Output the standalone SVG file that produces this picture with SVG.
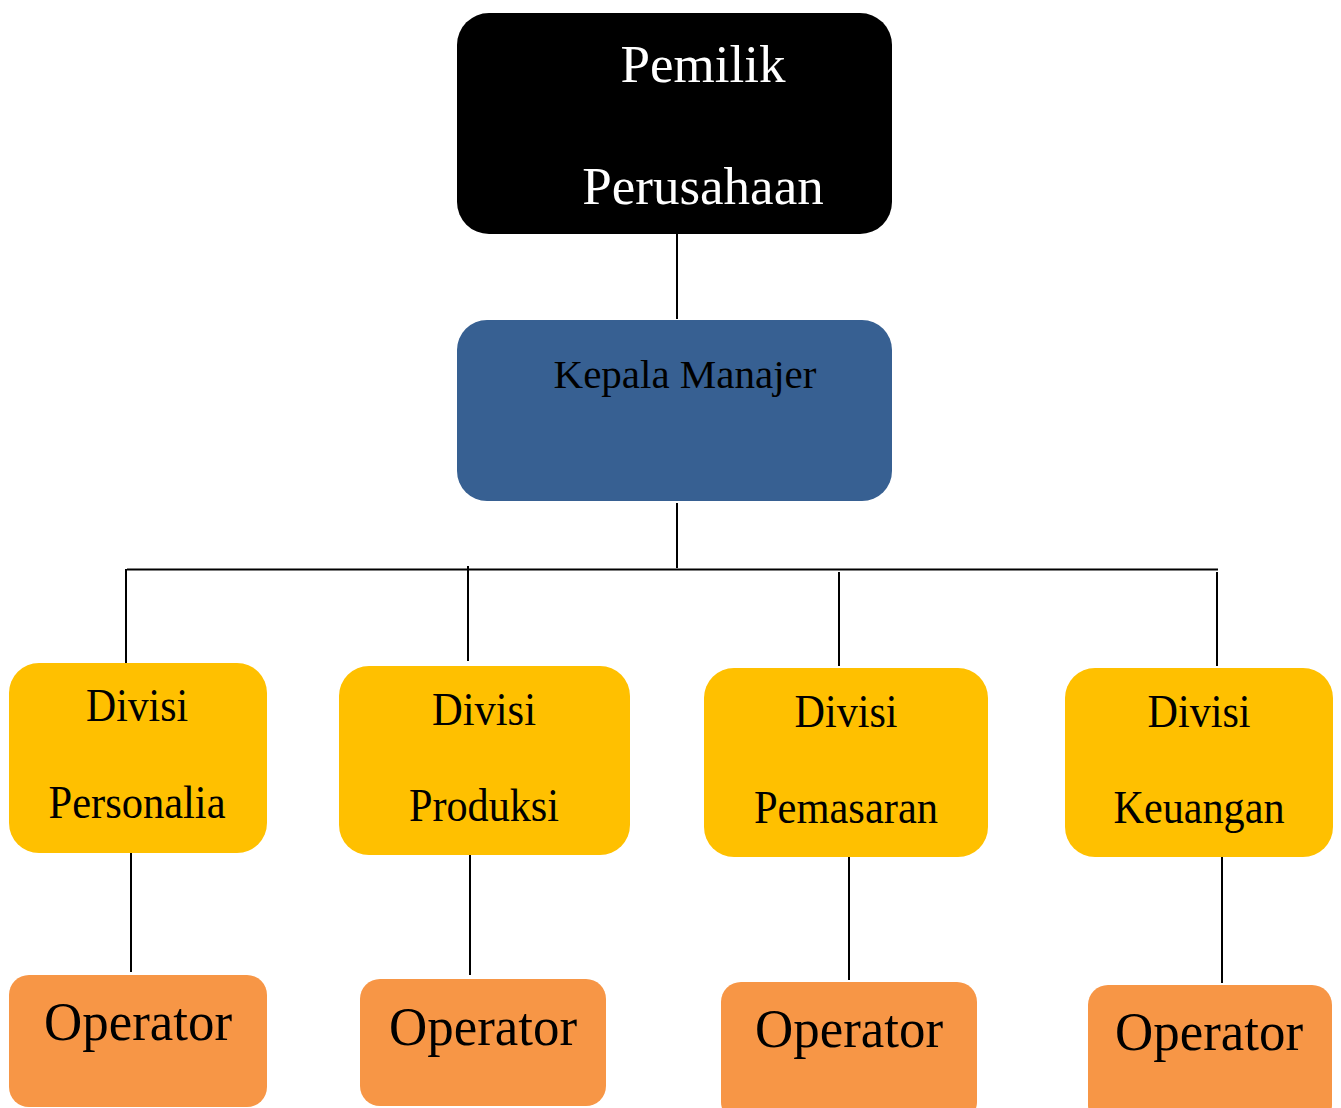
<svg xmlns="http://www.w3.org/2000/svg" width="1341" height="1108" viewBox="0 0 1341 1108">
<style>
text{font-family:"Liberation Serif","Times New Roman",serif;text-anchor:middle}
.top{fill:#000}
.mgr{fill:#376092}
.div{fill:#FFC000}
.op{fill:#F79646}
.t1{fill:#fff;font-size:53px}
.t2{fill:#000;font-size:41px}
.t3{fill:#000;font-size:46px}
.t4{fill:#000;font-size:54px}
#connectors line{stroke:#000;stroke-width:2}
</style>
<rect width="1341" height="1108" fill="#fff"/>
<g id="connectors">
<line x1="677" y1="233" x2="677" y2="319"/>
<line x1="677" y1="503" x2="677" y2="568"/>
<line x1="127" y1="569.5" x2="1218" y2="569.5"/>
<line x1="126" y1="569" x2="126" y2="663"/>
<line x1="468" y1="566" x2="468" y2="661"/>
<line x1="839" y1="572" x2="839" y2="666"/>
<line x1="1217" y1="572" x2="1217" y2="666"/>
<line x1="131" y1="847" x2="131" y2="972"/>
<line x1="470" y1="849" x2="470" y2="975"/>
<line x1="849" y1="855" x2="849" y2="980"/>
<line x1="1222" y1="857" x2="1222" y2="983"/>
</g>
<g id="pemilik">
<rect class="top" x="457" y="13" width="435" height="221" rx="32"/>
<text class="t1" x="703" y="82">Pemilik</text>
<text class="t1" x="703" y="204">Perusahaan</text>
</g>
<g id="kepala">
<rect class="mgr" x="457" y="320" width="435" height="181" rx="30"/>
<text class="t2" x="685" y="388">Kepala Manajer</text>
</g>
<g id="div-personalia">
<rect class="div" x="9" y="663" width="258" height="190" rx="30"/>
<text class="t3" x="137" y="721" textLength="102" lengthAdjust="spacingAndGlyphs">Divisi</text>
<text class="t3" x="137" y="818" textLength="177" lengthAdjust="spacingAndGlyphs">Personalia</text>
</g>
<g id="div-produksi">
<rect class="div" x="339" y="666" width="291" height="189" rx="30"/>
<text class="t3" x="484" y="725" textLength="104" lengthAdjust="spacingAndGlyphs">Divisi</text>
<text class="t3" x="484" y="821" textLength="150" lengthAdjust="spacingAndGlyphs">Produksi</text>
</g>
<g id="div-pemasaran">
<rect class="div" x="704" y="668" width="284" height="189" rx="30"/>
<text class="t3" x="846" y="727" textLength="103" lengthAdjust="spacingAndGlyphs">Divisi</text>
<text class="t3" x="846" y="823" textLength="184" lengthAdjust="spacingAndGlyphs">Pemasaran</text>
</g>
<g id="div-keuangan">
<rect class="div" x="1065" y="668" width="268" height="189" rx="30"/>
<text class="t3" x="1199" y="727" textLength="103" lengthAdjust="spacingAndGlyphs">Divisi</text>
<text class="t3" x="1199" y="823" textLength="171" lengthAdjust="spacingAndGlyphs">Keuangan</text>
</g>
<g id="op1">
<rect class="op" x="9" y="975" width="258" height="132" rx="20"/>
<text class="t4" x="138" y="1040" textLength="188" lengthAdjust="spacingAndGlyphs">Operator</text>
</g>
<g id="op2">
<rect class="op" x="360" y="979" width="246" height="127" rx="20"/>
<text class="t4" x="483" y="1045" textLength="188" lengthAdjust="spacingAndGlyphs">Operator</text>
</g>
<g id="op3">
<rect class="op" x="721" y="982" width="256" height="140" rx="20"/>
<text class="t4" x="849" y="1047" textLength="188" lengthAdjust="spacingAndGlyphs">Operator</text>
</g>
<g id="op4">
<rect class="op" x="1088" y="985" width="244" height="140" rx="20"/>
<text class="t4" x="1209" y="1050" textLength="188" lengthAdjust="spacingAndGlyphs">Operator</text>
</g>
</svg>
